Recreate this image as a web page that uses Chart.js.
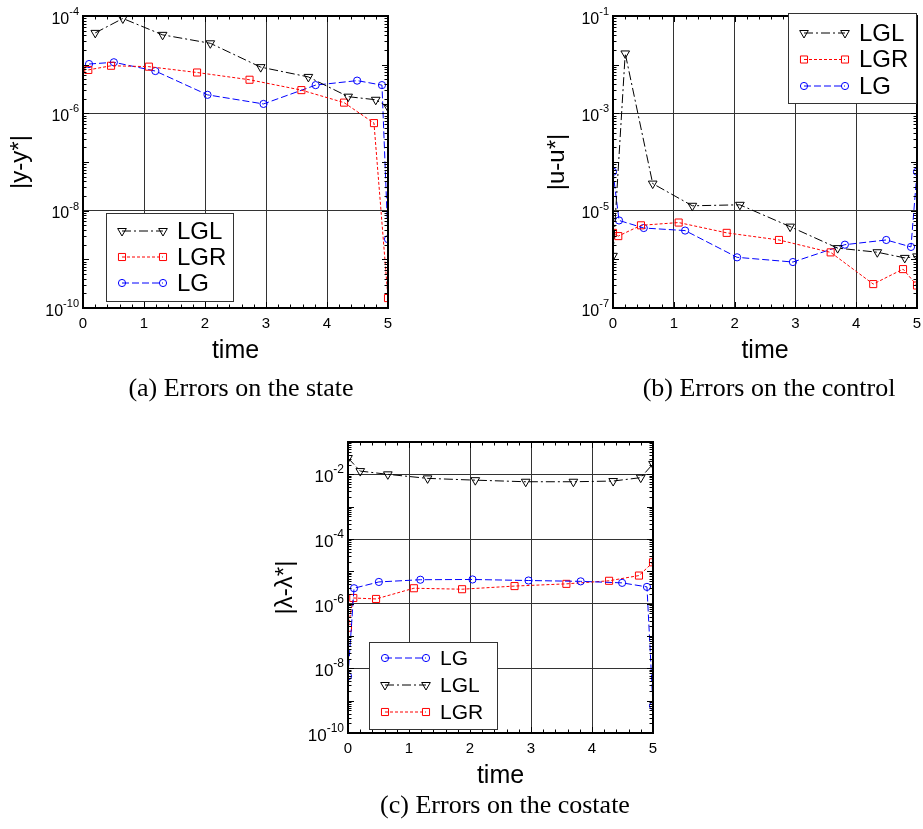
<!DOCTYPE html>
<html>
<head>
<meta charset="utf-8">
<title>Errors on state, control and costate</title>
<script src="https://cdn.jsdelivr.net/npm/chart.js@4.4.1/dist/chart.umd.min.js"></script>
<style>
  body { margin: 0; background: #fff; }
  #page { position: relative; width: 923px; height: 829px; overflow: hidden; }
  .panel { position: absolute; }
  .caption {
    position: absolute;
    font-family: "Liberation Serif", "Times New Roman", serif;
    font-size: 26px;
    color: #000;
    white-space: nowrap;
    transform: translate(-50%, -50%);
  }
</style>
</head>
<body>
<div id="page">
  <canvas id="state-chart" class="panel" width="460" height="380" style="left:0px;top:0px"></canvas>
  <canvas id="control-chart" class="panel" width="400" height="380" style="left:530px;top:0px"></canvas>
  <canvas id="costate-chart" class="panel" width="406" height="390" style="left:260px;top:420px"></canvas>
  <div class="caption" style="left:241px;top:388px">(a) Errors on the state</div>
  <div class="caption" style="left:769px;top:388px">(b) Errors on the control</div>
  <div class="caption" style="left:505px;top:805px">(c) Errors on the costate</div>
</div>
<script>
// collocation times of each scheme on [0, 5]
const timeLGL = [0, 0.201, 0.653, 1.305, 2.087, 2.913, 3.695, 4.347, 4.799, 5];
const timeLGR = [0, 0.087, 0.46, 1.08, 1.87, 2.73, 3.58, 4.28, 4.77, 5];
const timeLG = [0, 0.099, 0.506, 1.186, 2.041, 2.959, 3.814, 4.494, 4.901, 5];
const timeTicks = [0, 1, 2, 3, 4, 5];

// (a) errors on the state (null = not plotted)
const stateLGL = [null, 4.5e-5, 8.9e-5, 4.1e-5, 2.75e-5, 8.9e-6, 5.6e-6, 2.2e-6, 1.9e-6, 1.35e-6];
const stateLGR = [null, 7.8e-6, 9.5e-6, 9.1e-6, 6.9e-6, 4.9e-6, 3.0e-6, 1.66e-6, 6.3e-7, 1.6e-10];
const stateLG = [null, 1.03e-5, 1.12e-5, 7.4e-6, 2.4e-6, 1.56e-6, 3.8e-6, 4.7e-6, 3.8e-6, 2.6e-9];
const stateTicks = [1e-10, 1e-8, 1e-6, 1e-4];

// (b) errors on the control
const controlLGL = [1.18e-6, 1.7e-2, 3.6e-5, 1.26e-5, 1.32e-5, 4.7e-6, 1.7e-6, 1.4e-6, 1.07e-6, 1.15e-6];
const controlLGR = [3.5e-6, 3.0e-6, 5.0e-6, 5.7e-6, 3.5e-6, 2.5e-6, 1.39e-6, 3.1e-7, 6.3e-7, 2.9e-7];
const controlLG = [6.3e-5, 6.3e-6, 4.4e-6, 3.9e-6, 1.1e-6, 8.8e-7, 2.0e-6, 2.5e-6, 1.8e-6, 6.3e-5];
const controlTicks = [1e-7, 1e-5, 1e-3, 1e-1];

// (c) errors on the costate
const costateLGL = [3.2e-2, 1.26e-2, 1.0e-2, 7.5e-3, 6.6e-3, 5.9e-3, 5.9e-3, 6.2e-3, 7.9e-3, 2.1e-2];
const costateLGR = [1.8e-7, 1.5e-6, 1.4e-6, 3.0e-6, 2.8e-6, 3.5e-6, 4.1e-6, 5.1e-6, 7.4e-6, 1.9e-5];
const costateLG = [5.7e-9, 3.0e-6, 4.7e-6, 5.5e-6, 5.6e-6, 5.2e-6, 4.9e-6, 4.4e-6, 3.3e-6, 6.9e-10];
const costateTicks = [1e-10, 1e-8, 1e-6, 1e-4, 1e-2];

const SANS = '"Liberation Sans", Arial, Helvetica, sans-serif';

const seriesStyle = {
  LGL: { color: "#000000", dash: [9, 3, 2, 3], point: "triangle", rotation: 180, radius: 5 },
  LGR: { color: "#ff0000", dash: [3, 2], point: "rect", rotation: 0, radius: 5 },
  LG: { color: "#0000ff", dash: [7, 3], point: "circle", rotation: 0, radius: 3.6 },
};

const makeDataset = (name, times, values) => {
  const s = seriesStyle[name];
  return {
    label: name,
    data: times.map((t, i) => ({ x: t, y: values[i] })).filter(p => p.y !== null),
    borderColor: s.color,
    borderWidth: 1,
    borderDash: s.dash,
    pointStyle: s.point,
    pointRotation: s.rotation,
    pointRadius: s.radius,
    pointBorderWidth: 1,
    pointBorderColor: s.color,
    pointBackgroundColor: "rgba(0,0,0,0)",
    fill: false,
    tension: 0,
  };
};

// frame, inner minor ticks, superscript y labels and the boxed legend
const frameDecor = {
  id: "frameDecor",
  afterDraw(chart, args, opts) {
    const { ctx, chartArea: a } = chart;
    const xs = chart.scales.x;
    const ys = chart.scales.y;
    ctx.save();
    ctx.strokeStyle = "#000";
    ctx.lineWidth = 1;
    ctx.setLineDash([]);

    // minor ticks along x (every 0.2)
    ctx.beginPath();
    for (let i = 0; i <= 25; i++) {
      const px = Math.round(xs.getPixelForValue(i * 0.2)) + 0.5;
      const len = i % 5 === 0 ? 6 : 3.5;
      ctx.moveTo(px, a.bottom); ctx.lineTo(px, a.bottom - len);
      ctx.moveTo(px, a.top); ctx.lineTo(px, a.top + len);
    }
    // minor ticks along the log axis
    const eMin = Math.floor(Math.log10(ys.min));
    const eMax = Math.ceil(Math.log10(ys.max));
    for (let e = eMin; e <= eMax; e++) {
      for (let k = 1; k <= 9; k++) {
        const v = k * Math.pow(10, e);
        if (v < ys.min * 0.999 || v > ys.max * 1.001) continue;
        const py = Math.round(ys.getPixelForValue(v)) + 0.5;
        const len = k === 1 ? 6 : 3.5;
        ctx.moveTo(a.left, py); ctx.lineTo(a.left + len, py);
        ctx.moveTo(a.right, py); ctx.lineTo(a.right - len, py);
      }
    }
    ctx.stroke();

    // frame
    ctx.lineWidth = 2;
    ctx.strokeRect(a.left, a.top, a.right - a.left, a.bottom - a.top);

    // y tick labels as 10 with a raised exponent
    const big = opts.tickSize;
    const small = Math.round(big * 0.68);
    ctx.fillStyle = "#000";
    ctx.textBaseline = "alphabetic";
    ctx.textAlign = "left";
    ys.ticks.forEach(t => {
      const py = ys.getPixelForValue(t.value);
      const exp = String(Math.round(Math.log10(t.value)));
      ctx.font = `${small}px ${SANS}`;
      const wExp = ctx.measureText(exp).width;
      ctx.font = `${big}px ${SANS}`;
      const wBase = ctx.measureText("10").width;
      const x0 = a.left - 4 - wExp - wBase;
      ctx.fillText("10", x0, py + big * 0.48);
      ctx.font = `${small}px ${SANS}`;
      ctx.fillText(exp, x0 + wBase, py - 1);
    });

    // legend box
    const lg = opts.legend;
    const bx = a.left + lg.left;
    const by = a.top + lg.top;
    ctx.fillStyle = "#fff";
    ctx.fillRect(bx, by, lg.width, lg.height);
    ctx.lineWidth = 1;
    ctx.strokeStyle = "#333";
    ctx.strokeRect(bx + 0.5, by + 0.5, lg.width, lg.height);
    chart.data.datasets.forEach((ds, i) => {
      const ry = by + lg.rowTop + i * lg.rowGap;
      const x1 = bx + 16;
      const x2 = bx + 57;
      ctx.strokeStyle = ds.borderColor;
      ctx.lineWidth = 1;
      ctx.setLineDash(ds.borderDash);
      ctx.beginPath();
      ctx.moveTo(x1, ry); ctx.lineTo(x2, ry);
      ctx.stroke();
      ctx.setLineDash([]);
      ctx.fillStyle = "rgba(0,0,0,0)";
      [x1, x2].forEach(px => {
        Chart.helpers.drawPoint(ctx, {
          pointStyle: ds.pointStyle,
          rotation: ds.pointRotation,
          radius: ds.pointRadius,
          borderWidth: 1,
        }, px, ry);
      });
      ctx.fillStyle = "#000";
      ctx.font = `${lg.font}px ${SANS}`;
      ctx.textBaseline = "middle";
      ctx.fillText(ds.label, bx + 71, ry + 1);
    });
    ctx.restore();
  },
};

const buildChart = (id, datasets, yTicks, yMin, yMax, yTitle, lay) => {
  const ctx = document.getElementById(id).getContext("2d");
  return new Chart(ctx, {
    type: "line",
    data: { datasets },
    options: {
      responsive: false,
      animation: false,
      devicePixelRatio: 1,
      layout: { padding: { left: 0, right: lay.right, top: lay.top, bottom: lay.bottom } },
      scales: {
        x: {
          type: "linear",
          min: 0,
          max: 5,
          afterBuildTicks: s => { s.ticks = timeTicks.map(v => ({ value: v })); },
          afterFit: s => { s.height = 66; },
          ticks: { color: "#000", font: { family: SANS, size: 15 }, padding: 7, maxRotation: 0 },
          grid: { color: "#333", lineWidth: 1, drawTicks: false },
          border: { display: false },
          title: {
            display: true, text: "time", color: "#000",
            font: { family: SANS, size: 25 }, padding: { top: 0, bottom: 8 },
          },
        },
        y: {
          type: "logarithmic",
          min: yMin,
          max: yMax,
          afterBuildTicks: s => { s.ticks = yTicks.map(v => ({ value: v })); },
          afterFit: s => { s.width = lay.yWidth; },
          ticks: { display: false },
          grid: { color: "#333", lineWidth: 1, drawTicks: false },
          border: { display: false },
          title: {
            display: true, text: yTitle, color: "#000",
            font: { family: SANS, size: 24 }, padding: { top: lay.yTitlePad, bottom: 0 },
          },
        },
      },
      plugins: {
        legend: { display: false },
        tooltip: { enabled: false },
        frameDecor: { tickSize: lay.tickSize, legend: lay.legend },
      },
    },
    plugins: [frameDecor],
  });
};

buildChart("state-chart", [
  makeDataset("LGL", timeLGL, stateLGL),
  makeDataset("LGR", timeLGR, stateLGR),
  makeDataset("LG", timeLG, stateLG),
], stateTicks, 1e-10, 1e-4, "|y-y*|", {
  right: 72, top: 16, bottom: 6, yWidth: 83, yTitlePad: 5.6, tickSize: 16,
  legend: { left: 23, top: 197, width: 127, height: 88, rowTop: 18, rowGap: 26, font: 24 },
});

buildChart("control-chart", [
  makeDataset("LGL", timeLGL, controlLGL),
  makeDataset("LGR", timeLGR, controlLGR),
  makeDataset("LG", timeLG, controlLG),
], controlTicks, 1e-7, 1e-1, "|u-u*|", {
  right: 13, top: 16, bottom: 6, yWidth: 83, yTitlePad: 12.6, tickSize: 16,
  legend: { left: 175, top: -3, width: 128, height: 90, rowTop: 20, rowGap: 26.5, font: 24 },
});

buildChart("costate-chart", [
  makeDataset("LG", timeLG, costateLG),
  makeDataset("LGL", timeLGL, costateLGL),
  makeDataset("LGR", timeLGR, costateLGR),
], costateTicks, 1e-10, 1e-1, "|λ-λ*|", {
  right: 13, top: 22, bottom: 11, yWidth: 88, yTitlePad: 10.6, tickSize: 17,
  legend: { left: 21, top: 200, width: 128, height: 87, rowTop: 16, rowGap: 27, font: 21 },
});
</script>
</body>
</html>
